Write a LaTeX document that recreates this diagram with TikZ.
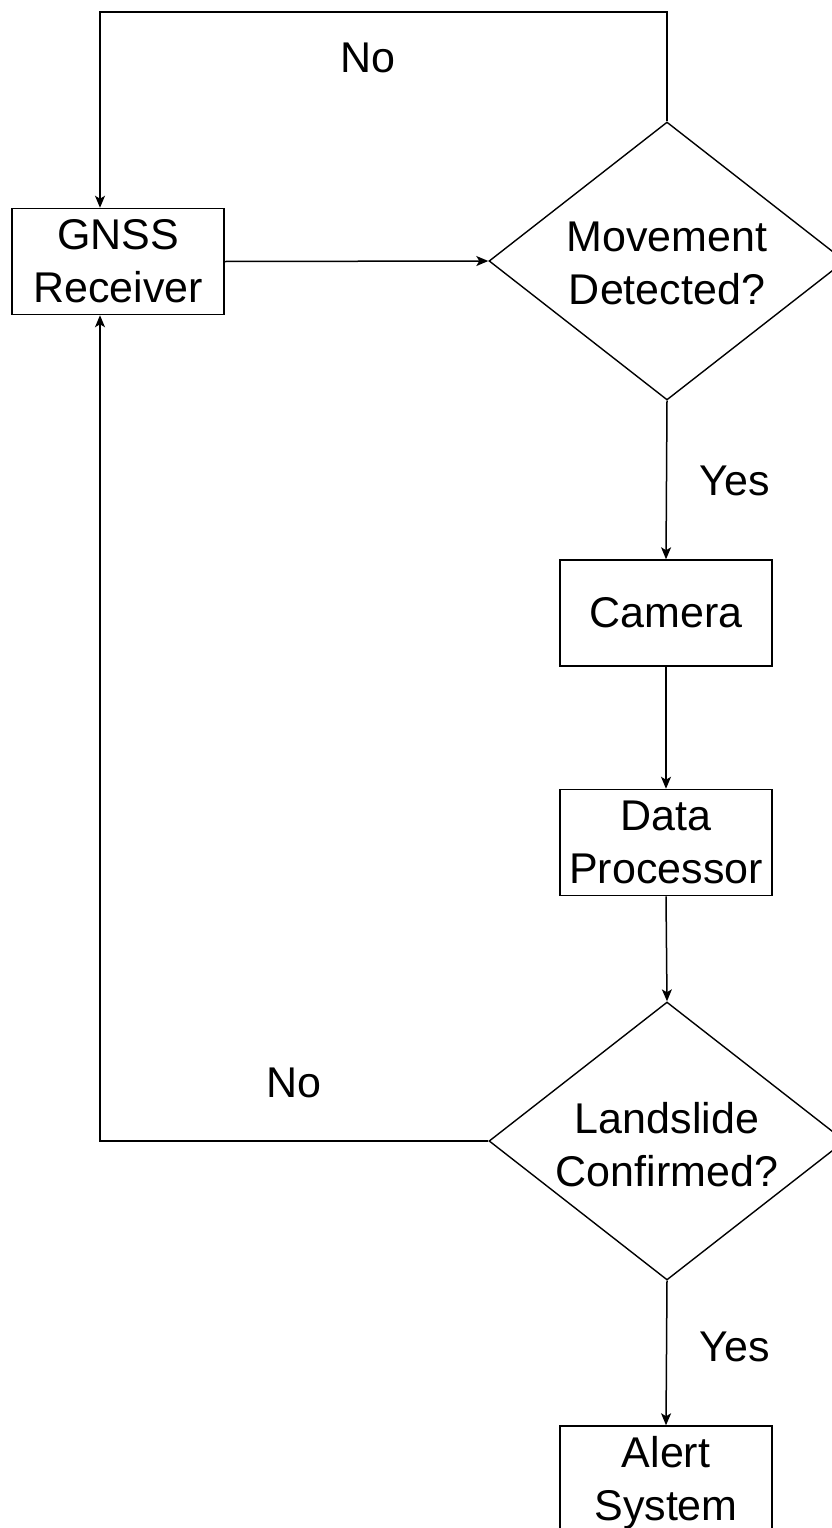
\documentclass[tikz,border=0pt]{standalone}
\usepackage{fontspec}
\setmainfont{Liberation Sans}
\usetikzlibrary{arrows.meta,shapes.geometric}
\begin{document}
\begin{tikzpicture}[x=1pt,y=-1pt,
  box/.style={draw, line width=1.5pt, minimum width=212pt, minimum height=106pt, inner sep=0pt, align=center, font=\fontsize{43}{53}\selectfont},
  dia/.style={draw, diamond, line width=1.4pt, minimum width=356pt, minimum height=278pt, inner sep=0pt},
  txt/.style={align=center, inner sep=0pt, font=\fontsize{43}{53}\selectfont},
  conn/.style={line width=1.5pt, -{Stealth[length=12pt,width=10pt,inset=3pt]}}]
\fill[white] (0,0) rectangle (832,1528);
\useasboundingbox (0,0) rectangle (832,1528);
% nodes
\node[box] (gnss) at (118,261.5) {GNSS\\Receiver};
\node[dia] (md) at (667,261) {};
\node[txt] (mdt) at (667,263) {Movement\\Detected?};
\node[box] (cam) at (666,613) {Camera};
\node[box] (dp) at (666,842.5) {Data\\Processor};
\node[dia] (lc) at (667,1141) {};
\node[txt] (lct) at (667,1145) {Landslide\\Confirmed?};
\node[box] (alert) at (666,1479) {};
\node[txt] (alertt) at (666,1483) {Alert\\System};
% labels
\node[txt] (no1) at (368,58) {No};
\node[txt] (yes1) at (735,481) {Yes};
\node[txt] (no2) at (294,1083) {No};
\node[txt] (yes2) at (735,1347) {Yes};
% connector corners
\coordinate (tr) at (667,12);
\coordinate (tl) at (100,12);
\coordinate (bl) at (100,1141);
% connectors
\draw[conn] (gnss.east) -- (md.west);
\draw[conn] (md.north) -- (tr) -- (tl) -- (tl |- gnss.north);
\draw[conn] (md.south) -- (cam.north);
\draw[conn] (cam.south) -- (dp.north);
\draw[conn] (dp.south) -- (lc.north);
\draw[conn] (lc.west) -- (bl) -- (bl |- gnss.south);
\draw[conn] (lc.south) -- (alert.north);
\end{tikzpicture}
\end{document}
